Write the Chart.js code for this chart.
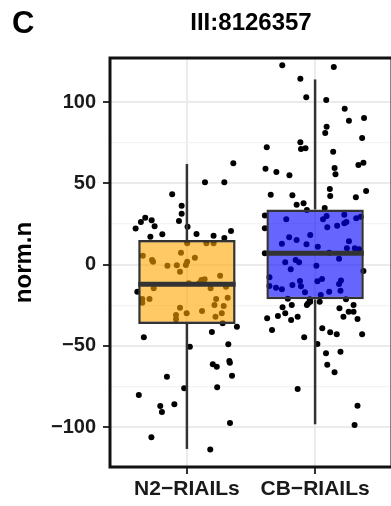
<!DOCTYPE html>
<html>
<head>
<meta charset="utf-8">
<script src="https://cdn.jsdelivr.net/npm/chart.js@4.4.0/dist/chart.umd.min.js"></script>
<style>
  html, body { margin: 0; padding: 0; overflow: hidden; background: #fff; }
  canvas { display: block; }
</style>
</head>
<body>
<canvas id="box" width="396" height="506"></canvas>
<script>
// ─── Data ────────────────────────────────────────────────────────────────

const panelLabel = 'C';
const plotTitle = 'III:8126357';
const yTitle = 'norm.n';

const groups   = ['N2\u2212RIAILs', 'CB\u2212RIAILs'];
const groupPos = [1, 2];

// box stats per group
const whiskerLow  = [-113.4, -98.2];
const boxLower    = [-36.5, -21.3];
const boxMedian   = [-12, 7];
const boxUpper    = [15.2, 34];
const whiskerHigh = [62, 114];

const yTicks  = [-100, -75, -50, -25, 0, 25, 50, 75, 100];
const yLabels = [-100, -50, 0, 50, 100];

// jittered points: offset from group centre, value
const n2Jitter = [
  0.362, 0.141, 0.292, -0.115, -0.041, -0.041, -0.062, 0.005, -0.325, -0.359,
  -0.275, -0.252, -0.4, -0.192, -0.285, 0.075, 0.208, 0.292, 0.344, 0.002,
  0.152, 0.208, -0.344, -0.046, -0.272, -0.264, -0.152, -0.079, 0.002, 0.062,
  -0.008, -0.054, 0.259, 0.113, 0.138, 0.015, 0.095, -0.387, -0.259, 0.185,
  0.305, -0.348, -0.348, -0.292, 0.228, 0.318, 0.215, 0.287, -0.054, 0.118,
  -0.002, -0.085, -0.085, 0.272, 0.223, 0.279, 0.39, 0.195, -0.336, 0.023,
  0.323, 0.202, 0.233, 0.331, 0.335, -0.156, 0.352, -0.021, 0.236, -0.375,
  -0.208, -0.195, -0.098, 0.336, -0.277, 0.182,
];
const n2Values = [
  62.4, 50.7, 50.7, 43.3, 36.3, 31.4, 26.9, 23.4, 28.9, 26.3,
  27.3, 23.6, 22.2, 18.7, 17.2, 18.9, 17.8, 16.4, 20.7, 13.2,
  13.2, 13.2, 5.5, 7.4, 2.9, 1.8, -0.6, -0.4, 1.8, 4.3,
  -0.2, -4.3, -6.8, -9.4, -9.0, -11.4, -11.4, -16.6, -14.5, -14.5,
  -13.5, -21.1, -23.4, -21.1, -21.1, -20.3, -24.8, -25.4, -26.5, -28.5,
  -29.9, -31.0, -33.6, -29.9, -32.0, -36.1, -38.2, -41.4, -44.7, -50.5,
  -49.0, -61.3, -62.8, -59.3, -60.3, -68.9, -68.3, -76.1, -75.4, -80.2,
  -87.0, -90.6, -85.9, -97.4, -106.2, -113.8,
];

const cbJitter = [
  -0.256, 0.146, -0.115, -0.069, 0.087, 0.231, 0.264, 0.382, 0.09, 0.079,
  0.367, -0.115, -0.377, -0.11, -0.075, 0.141, -0.387, -0.302, -0.2, 0.152,
  0.159, 0.338, 0.377, -0.346, -0.177, 0.115, 0.118, 0.318, 0.398, -0.144,
  -0.09, 0.075, -0.392, -0.392, -0.225, -0.064, 0.09, 0.062, 0.228, 0.321,
  0.356, 0.095, 0.172, 0.228, 0.244, -0.038, -0.202, -0.144, -0.259, -0.067,
  0.021, 0.264, 0.248, 0.31, 0.344, -0.392, 0.11, -0.233, -0.152, -0.125,
  0.01, 0.187, -0.19, 0.377, -0.356, -0.118, 0.054, 0.018, 0.202, 0.187,
  -0.356, -0.305, -0.259, -0.177, -0.11, -0.079, 0.11, 0.198, 0.044, -0.213,
  -0.041, 0.241, -0.254, -0.182, -0.064, -0.038, 0.19, 0.3, -0.054, -0.374,
  -0.29, -0.233, -0.187, -0.136, 0.036, 0.221, 0.262, 0.3, 0.331, -0.336,
  -0.085, 0.056, 0.118, 0.169, 0.367, 0.018, 0.085, 0.198, 0.095, 0.152,
  -0.136, 0.331, 0.308,
];
const cbValues = [
  122.7, 121.7, 114.5, 103.0, 101.4, 96.0, 88.6, 90.3, 84.9, 81.0,
  78.0, 75.3, 72.2, 71.2, 71.6, 69.5, 59.1, 57.0, 55.0, 59.5,
  55.6, 61.4, 62.8, 43.1, 42.7, 46.6, 42.3, 41.5, 45.4, 36.9,
  37.8, 34.9, 30.2, 22.4, 27.9, 33.7, 30.0, 27.9, 30.8, 28.6,
  29.5, 23.0, 24.0, 25.5, 26.3, 18.3, 16.9, 15.2, 12.9, 12.6,
  11.1, 14.4, 10.1, 10.1, 9.5, 7.0, 7.4, 1.5, 2.9, 1.5,
  -0.6, 3.7, -2.8, -3.9, -7.8, -10.0, -8.8, -10.2, -9.8, -11.9,
  -13.1, -14.2, -15.1, -12.5, -13.3, -17.0, -16.6, -16.0, -18.6, -20.9,
  -21.3, -21.3, -26.2, -24.8, -24.8, -22.8, -26.8, -24.8, -23.8, -33.0,
  -31.6, -29.9, -34.0, -32.0, -22.8, -32.0, -28.9, -28.9, -33.4, -40.2,
  -44.7, -39.1, -41.6, -42.8, -42.8, -48.8, -54.5, -53.5, -61.5, -66.2,
  -76.5, -86.8, -98.6,
];

// ─── Setup ───────────────────────────────────────────────────────────────

const FONT = "'Liberation Sans', Arial, Helvetica, sans-serif";
Chart.defaults.font.family = FONT;
Chart.defaults.color = '#1a1a1a';

const BOX_HALF = 0.38;
const LINE_COL = '#333333';
const fmt = v => (v < 0 ? '\u2212' + Math.abs(v) : String(v));

const points = [
  ...n2Values.map((v, i) => ({ x: groupPos[0] + n2Jitter[i], y: v })),
  ...cbValues.map((v, i) => ({ x: groupPos[1] + cbJitter[i], y: v })),
];

const datasets = [];

// medians on top
groupPos.forEach((p, i) => {
  datasets.push({
    type: 'line', order: 0,
    data: [{ x: p - BOX_HALF, y: boxMedian[i] }, { x: p + BOX_HALF, y: boxMedian[i] }],
    borderColor: LINE_COL, borderWidth: 5, pointRadius: 0, borderCapStyle: 'butt',
  });
});

// boxes (floating bars)
datasets.push({
  type: 'bar', order: 1,
  data: groupPos.map((p, i) => ({ x: p, y: [boxLower[i], boxUpper[i]] })),
  backgroundColor: ['rgba(255,165,0,0.6)', 'rgba(0,0,255,0.6)'],
  borderColor: LINE_COL,
  borderWidth: 2.5,
  borderSkipped: false,
  categoryPercentage: 1,
  barPercentage: 0.76,
});

// whiskers
groupPos.forEach((p, i) => {
  datasets.push({
    type: 'line', order: 2,
    data: [{ x: p, y: boxUpper[i] }, { x: p, y: whiskerHigh[i] }],
    borderColor: LINE_COL, borderWidth: 2.5, pointRadius: 0,
  });
  datasets.push({
    type: 'line', order: 2,
    data: [{ x: p, y: whiskerLow[i] }, { x: p, y: boxLower[i] }],
    borderColor: LINE_COL, borderWidth: 2.5, pointRadius: 0,
  });
});

// jittered points underneath
datasets.push({
  type: 'scatter', order: 3,
  data: points,
  pointRadius: 3,
  pointBackgroundColor: '#000',
  pointBorderWidth: 0,
});

// ─── Plugins ─────────────────────────────────────────────────────────────

const panelFrame = {
  id: 'panelFrame',
  afterDatasetsDraw(chart) {
    const { ctx, chartArea: a } = chart;
    ctx.save();
    ctx.strokeStyle = '#111';
    ctx.lineWidth = 3;
    ctx.strokeRect(a.left, a.top, a.right - a.left, a.bottom - a.top);
    ctx.restore();
  },
};

const header = {
  id: 'header',
  afterDraw(chart) {
    const { ctx, chartArea: a } = chart;
    ctx.save();
    ctx.fillStyle = '#000';
    ctx.textBaseline = 'alphabetic';
    ctx.font = `bold 31px ${FONT}`;
    ctx.textAlign = 'left';
    ctx.fillText(panelLabel, 12, 33);
    ctx.font = `bold 24px ${FONT}`;
    ctx.textAlign = 'center';
    ctx.fillText(plotTitle, (a.left + a.right) / 2, 30);
    ctx.restore();
  },
};

// ─── Chart ───────────────────────────────────────────────────────────────

new Chart(document.getElementById('box'), {
  type: 'scatter',
  data: { datasets },
  options: {
    responsive: false,
    devicePixelRatio: 1,
    animation: false,
    layout: { padding: { top: 58, right: 1, bottom: 0, left: 0 } },
    plugins: { legend: { display: false }, tooltip: { enabled: false } },
    scales: {
      x: {
        type: 'linear',
        min: 0.4,
        max: 2.6,
        offset: false,
        afterBuildTicks: s => { s.ticks = groupPos.map(v => ({ value: v })); },
        afterFit: s => { s.height = 39; },
        ticks: {
          callback: (v, i) => groups[i],
          autoSkip: false,
          maxRotation: 0,
          padding: 3,
          color: '#1a1a1a',
          font: { size: 21, weight: 'bold' },
        },
        grid: {
          offset: false,
          color: '#EBEBEB', lineWidth: 2,
          tickColor: LINE_COL, tickLength: 7, tickWidth: 2,
        },
        border: { display: false },
      },
      y: {
        min: -124.5,
        max: 127.2,
        afterBuildTicks: s => { s.ticks = yTicks.map(v => ({ value: v })); },
        afterFit: s => { s.width = 110; },
        ticks: {
          callback: v => (yLabels.includes(v) ? fmt(v) : ''),
          padding: 7,
          color: '#1a1a1a',
          font: { size: 20, weight: 'bold' },
        },
        grid: {
          color: c => (yLabels.includes(c.tick.value) ? '#EBEBEB' : '#F3F3F3'),
          lineWidth: c => (yLabels.includes(c.tick.value) ? 2 : 1.2),
          tickColor: c => (yLabels.includes(c.tick.value) ? LINE_COL : 'rgba(0,0,0,0)'),
          tickLength: 7,
          tickWidth: 2,
        },
        border: { display: false },
        title: {
          display: true,
          text: yTitle,
          color: '#000',
          font: { size: 24, weight: 'bold' },
          padding: { top: 10, bottom: 0 },
        },
      },
    },
  },
  plugins: [panelFrame, header],
});
</script>
</body>
</html>
